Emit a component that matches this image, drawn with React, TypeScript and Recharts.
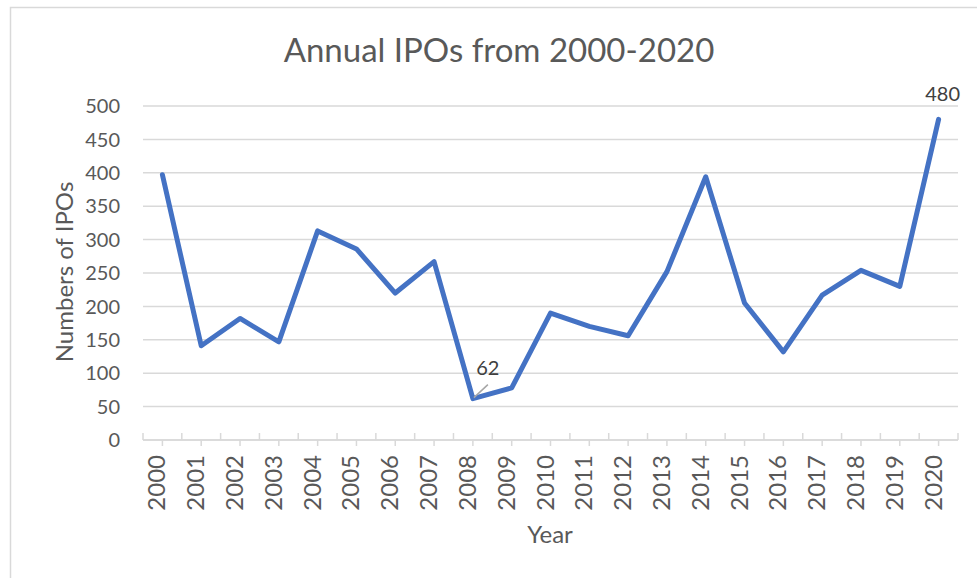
import React from 'react';
import { LineChart, Line, XAxis, YAxis, CartesianGrid, LabelList } from 'recharts';

const years = ['2000','2001','2002','2003','2004','2005','2006','2007','2008','2009','2010','2011','2012','2013','2014','2015','2016','2017','2018','2019','2020'];
const ipos = [397,141,182,147,313,286,220,267,62,78,190,170,156,252,394,205,132,217,254,230,480];
const yTicks = [0,50,100,150,200,250,300,350,400,450,500];
const labeledYears = ['2008','2020'];

const title = 'Annual IPOs from 2000-2020';
const xTitle = 'Year';
const yTitle = 'Numbers of IPOs';

const data = years.map((y, i) => ({ idx: i, year: y, value: ipos[i] }));
const xTicks: number[] = [];
for (let k = 0; k <= years.length * 2; k++) xTicks.push(k / 2 - 0.5);

const FONT = 'Lato, "Open Sans", sans-serif';
const TEXT = '#595959';
const GRID = '#d9d9d9';

const XTick = (props: any) => {
  const { x, y, payload } = props;
  const v = payload.value;
  if (Number.isInteger(v)) {
    return (
      <g>
        <line x1={x} x2={x} y1={y} y2={y + 6} stroke={GRID} strokeWidth={1.5} />
        <text
          transform={`translate(${x + 3},${y + 15}) rotate(-90)`}
          textAnchor="end"
          fill={TEXT}
          fontSize={24}
          fontFamily={FONT}
        >
          {years[v]}
        </text>
      </g>
    );
  }
  return <line x1={x} x2={x} y1={y} y2={y - 7} stroke={GRID} strokeWidth={1.5} />;
};

const renderLabel = (p: any) => {
  const { x, y, value, index } = p;
  const yr = years[index];
  if (!labeledYears.includes(yr)) return null;
  if (yr === '2008') {
    return (
      <g>
        <line x1={x + 1} y1={y - 1} x2={x + 15} y2={y - 14} stroke="#a6a6a6" strokeWidth={1.5} />
        <text x={x + 15} y={y - 24} textAnchor="middle" fill="#404040" fontSize={20} fontFamily={FONT}>
          {value}
        </text>
      </g>
    );
  }
  return (
    <text x={x + 4} y={y - 18} textAnchor="middle" fill="#404040" fontSize={20} fontFamily={FONT}>
      {value}
    </text>
  );
};

export default function App() {
  return (
    <div style={{ position: 'absolute', left: 0, top: 0, width: 977, height: 578, overflow: 'hidden', background: '#fff' }}>
      <LineChart
        width={977}
        height={578}
        data={data}
        margin={{ top: 106, right: 19, bottom: 0, left: 0 }}
      >
        <CartesianGrid vertical={false} stroke={GRID} strokeWidth={1.5} />
        <XAxis
          dataKey="idx"
          type="number"
          domain={[-0.5, 20.5]}
          ticks={xTicks}
          interval={0}
          height={138}
          tickSize={0}
          tickMargin={0}
          tickLine={false}
          axisLine={{ stroke: GRID, strokeWidth: 1.5 }}
          tick={<XTick />}
          allowDataOverflow
        />
        <YAxis
          type="number"
          domain={[0, 500]}
          ticks={yTicks}
          interval={0}
          width={143}
          axisLine={false}
          tickLine={false}
          tickSize={0}
          tickMargin={23}
          tick={{ fill: TEXT, fontSize: 20, fontFamily: FONT }}
        />
        <Line
          type="linear"
          dataKey="value"
          stroke="#4472C4"
          strokeWidth={5}
          strokeLinejoin="round"
          strokeLinecap="round"
          dot={false}
          activeDot={false}
          isAnimationActive={false}
        >
          <LabelList dataKey="value" content={renderLabel} />
        </Line>
      </LineChart>
      <svg
        width={977}
        height={578}
        style={{ position: 'absolute', left: 0, top: 0, pointerEvents: 'none' }}
      >
        <path d="M10.5 578 L10.5 7.5 L977 7.5" fill="none" stroke={GRID} strokeWidth={1.5} />
        <text x={499} y={62} textAnchor="middle" fill={TEXT} fontSize={33} fontFamily={FONT}>
          {title}
        </text>
        <text
          transform="translate(73,272) rotate(-90)"
          textAnchor="middle"
          fill={TEXT}
          fontSize={24}
          fontFamily={FONT}
        >
          {yTitle}
        </text>
        <text x={550} y={543} textAnchor="middle" fill={TEXT} fontSize={24} fontFamily={FONT}>
          {xTitle}
        </text>
      </svg>
    </div>
  );
}
